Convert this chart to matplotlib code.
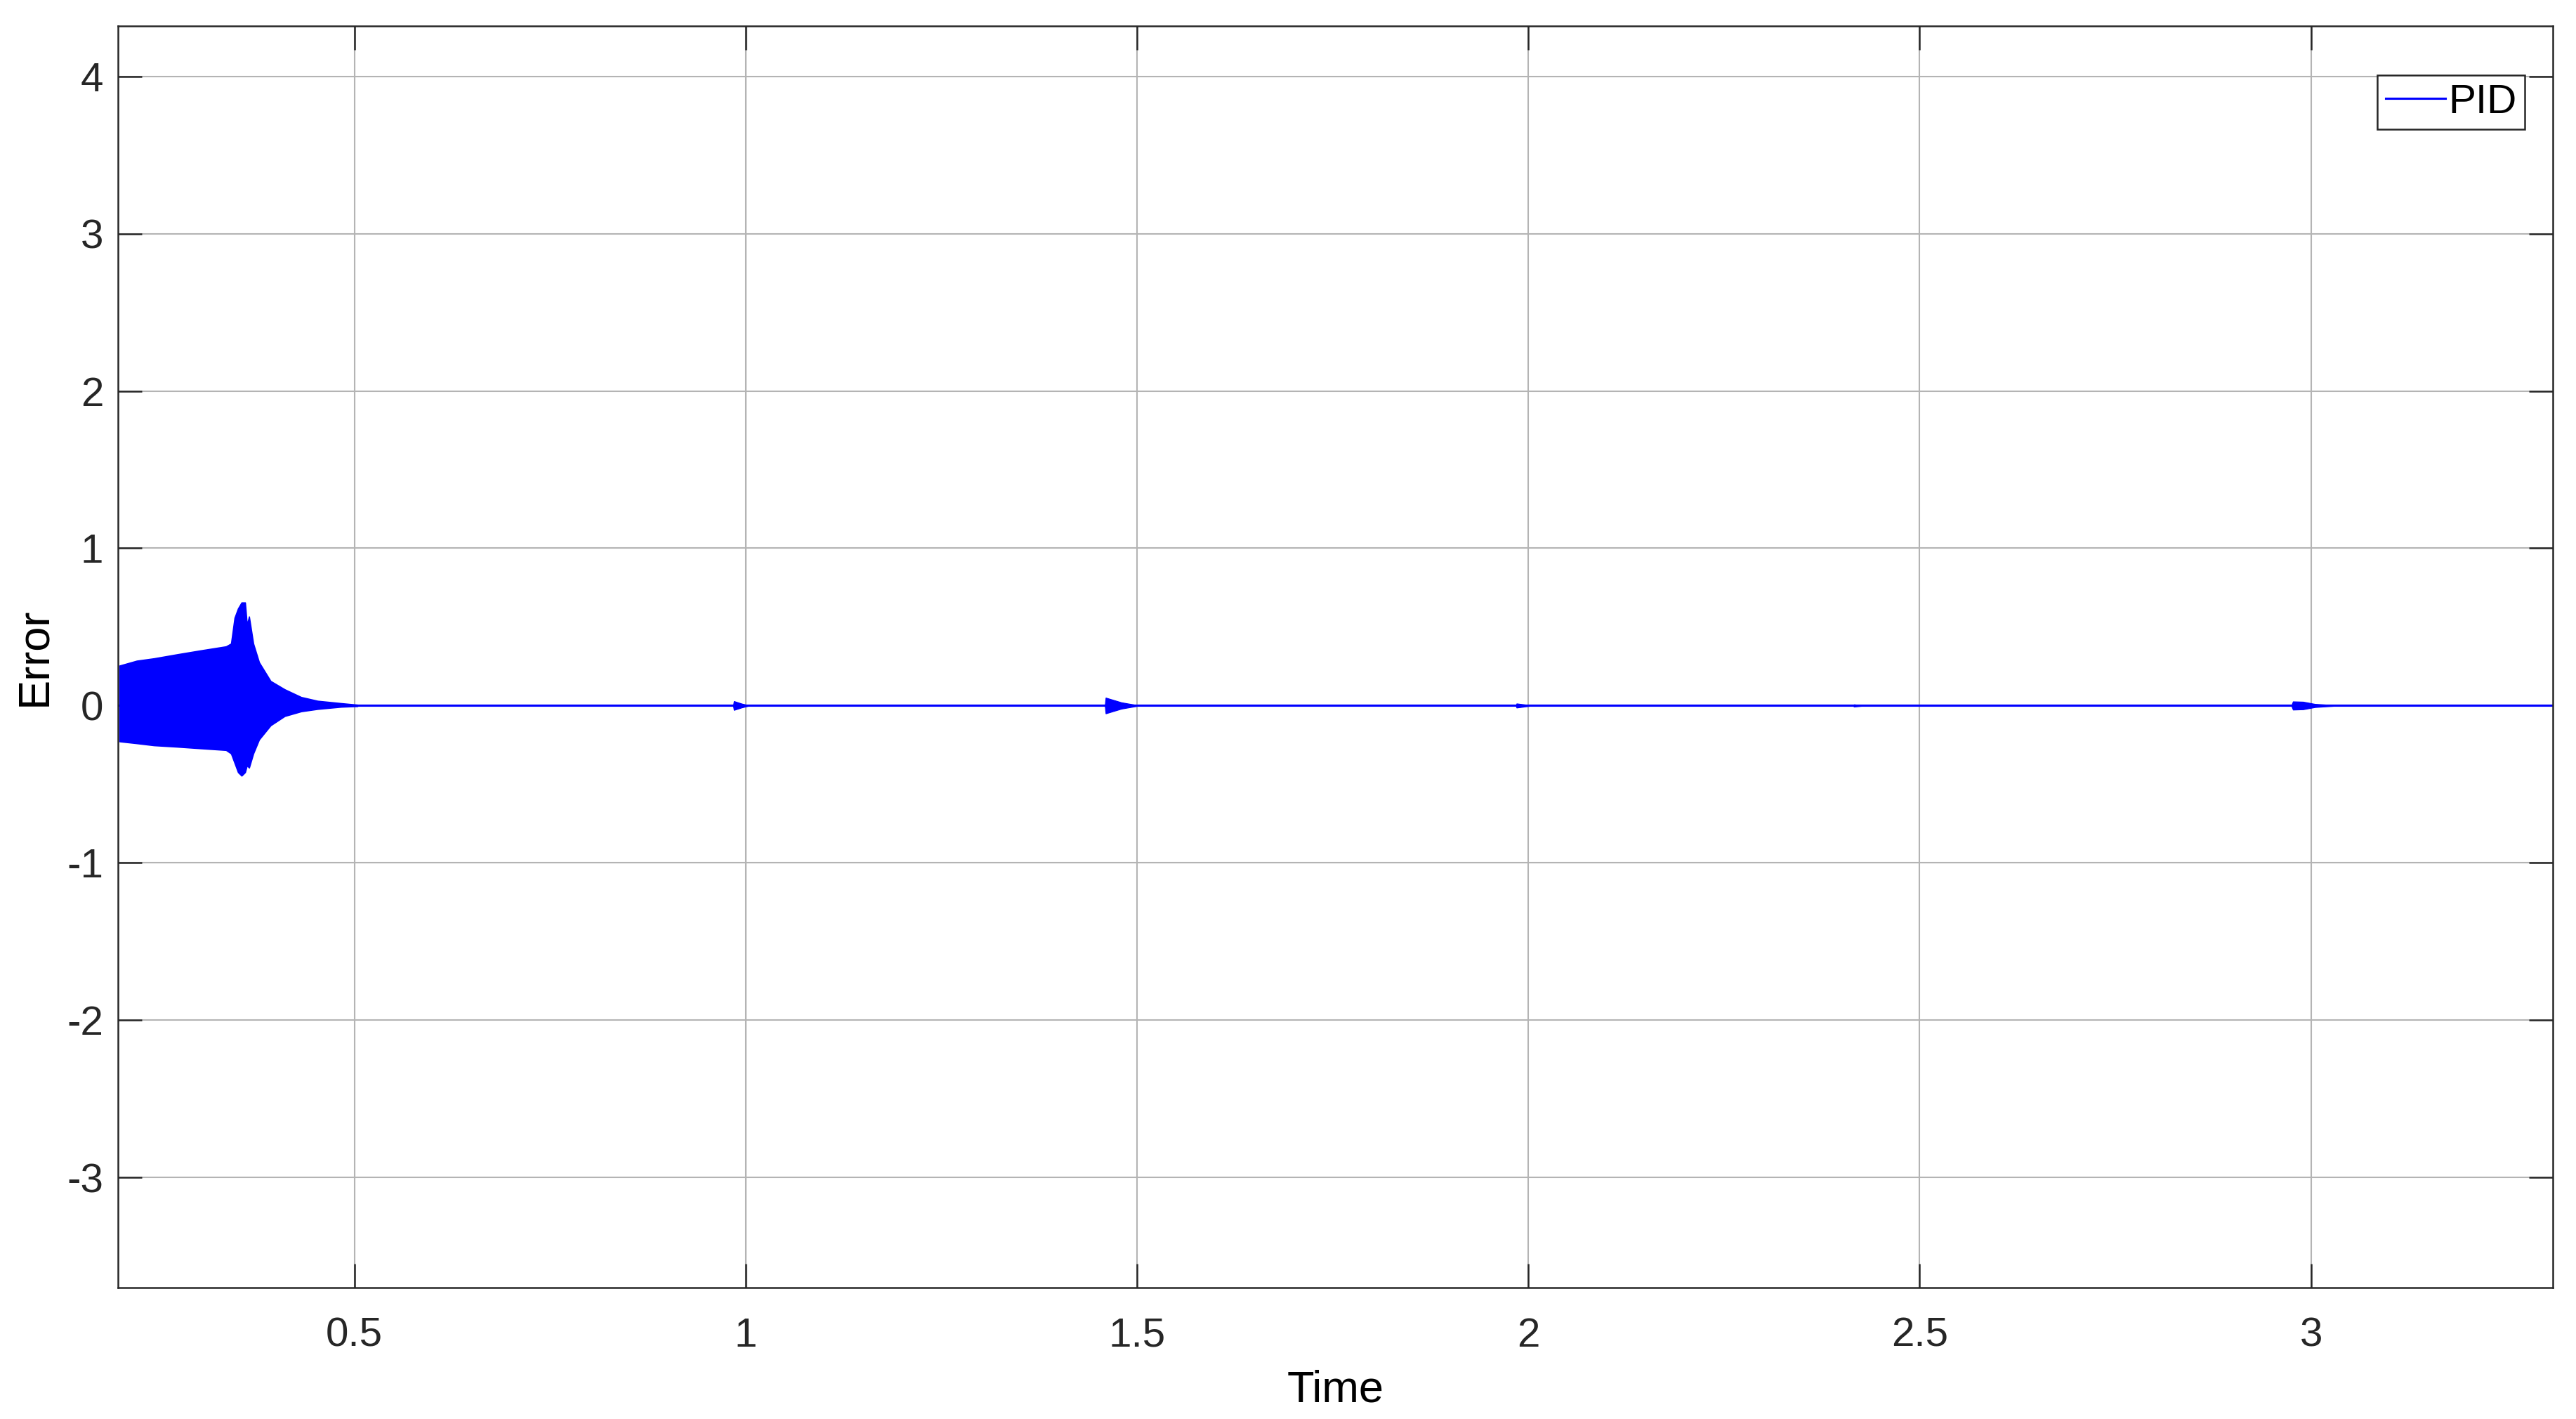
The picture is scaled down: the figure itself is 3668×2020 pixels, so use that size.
import matplotlib
matplotlib.use('Agg')
import matplotlib.pyplot as plt

plt.rcParams['font.family'] = ['Liberation Sans', 'DejaVu Sans']

# Envelope of the fast oscillation at start-up
burst_t = [0.200, 0.222, 0.244, 0.274, 0.303, 0.336, 0.3425, 0.347, 0.3514, 0.3559,
           0.3604, 0.3628, 0.3655, 0.3709, 0.3783, 0.393, 0.411, 0.432, 0.453, 0.483, 0.504]
burst_upper = [0.254, 0.285, 0.300, 0.326, 0.350, 0.376, 0.394, 0.558, 0.617, 0.655,
               0.655, 0.513, 0.566, 0.394, 0.275, 0.156, 0.103, 0.054, 0.030, 0.015, 0.005]
burst_lower = [-0.228, -0.240, -0.253, -0.262, -0.272, -0.283, -0.305, -0.365, -0.424, -0.446,
               -0.424, -0.380, -0.395, -0.305, -0.216, -0.126, -0.067, -0.037, -0.022, -0.008, -0.004]

# small disturbances later on (half-width of the band)
bump1_t = [0.984, 0.985, 0.995, 1.005]
bump1_amp = [0.0, 0.028, 0.012, 0.0]
bump2_t = [1.459, 1.460, 1.480, 1.503]
bump2_amp = [0.0, 0.050, 0.020, 0.0]
bump3_t = [1.984, 1.985, 2.005]
bump3_amp = [0.0, 0.013, 0.0]
bump4_t = [2.415, 2.416, 2.430]
bump4_amp = [0.0, 0.007, 0.0]
bump5_t = [2.975, 2.977, 2.990, 3.005, 3.036]
bump5_amp = [0.0, 0.026, 0.024, 0.010, 0.0]

# steady part of the error signal
steady_t = [0.198, 3.310]
steady_err = [0.0, 0.0]

x_ticks = [0.5, 1, 1.5, 2, 2.5, 3]
x_tick_labels = ['0.5', '1', '1.5', '2', '2.5', '3']
y_ticks = [-3, -2, -1, 0, 1, 2, 3, 4]
y_tick_labels = ['-3', '-2', '-1', '0', '1', '2', '3', '4']

blue = (0, 0, 1)
dark = '#262626'

fig = plt.figure(figsize=(3668 / 300, 2020 / 300), dpi=300)
ax = fig.add_axes([0.0458, 0.0926, 0.9452, 0.8891])

ax.plot(steady_t, steady_err, color=blue, linewidth=0.75, label='PID')
ax.fill_between(burst_t, burst_lower, burst_upper, color=blue, linewidth=0.4, edgecolor=blue)
for bt, ba in [(bump1_t, bump1_amp), (bump2_t, bump2_amp), (bump3_t, bump3_amp),
               (bump4_t, bump4_amp), (bump5_t, bump5_amp)]:
    ax.fill_between(bt, [-a for a in ba], ba, color=blue, linewidth=0.3, edgecolor=blue)

ax.set_xlim(0.198, 3.309)
ax.set_ylim(-3.7, 4.32)
ax.set_xticks(x_ticks)
ax.set_xticklabels(x_tick_labels)
ax.set_yticks(y_ticks)
ax.set_yticklabels(y_tick_labels)

ax.grid(True, color='#b4b4b4', linewidth=0.5)
ax.set_axisbelow(True)
ax.tick_params(direction='in', length=8.2, width=0.6, color=dark, labelcolor=dark,
               labelsize=14, top=True, right=True)
ax.tick_params(axis='x', pad=10)
ax.tick_params(axis='y', pad=5)
for s in ax.spines.values():
    s.set_color(dark)
    s.set_linewidth(0.6)

ax.set_xlabel('Time', fontsize=15.2, color='black', labelpad=5)
ax.set_ylabel('Error', fontsize=15.2, color='black', labelpad=4)

leg = ax.legend(loc='upper right', bbox_to_anchor=(0.9885, 0.961), borderaxespad=0,
                fancybox=False, framealpha=1, edgecolor=dark, fontsize=14,
                handlelength=1.45, handletextpad=0.08, borderpad=0.2)
leg.get_frame().set_linewidth(0.6)

fig.savefig('out.png', dpi=300)
